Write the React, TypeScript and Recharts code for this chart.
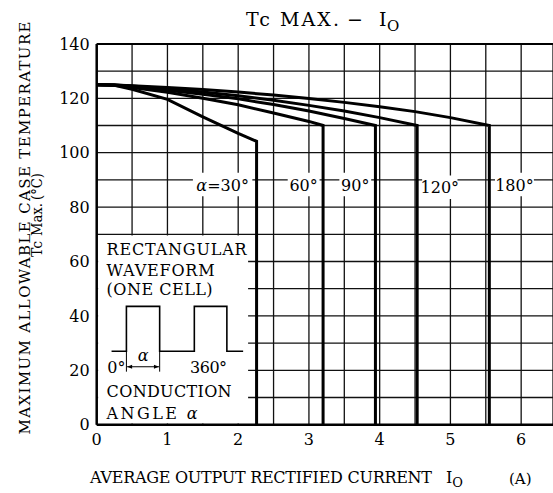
import React from 'react';
import {
  LineChart,
  Line,
  XAxis,
  YAxis,
  CartesianGrid,
  ReferenceArea,
  ReferenceLine,
  ReferenceDot,
} from 'recharts';

const FONT = '"DejaVu Serif", "Liberation Serif", serif';

// grid: every 0.5 A and every 10 °C, labels on whole amps / 20 °C
const xTicks = [0, 0.5, 1, 1.5, 2, 2.5, 3, 3.5, 4, 4.5, 5, 5.5, 6];
const yTicks = [0, 10, 20, 30, 40, 50, 60, 70, 80, 90, 100, 110, 120, 130, 140];

// Tc max vs Io, one curve per conduction angle (ends with the vertical drop)
const io30 = [0, 0.25, 0.5, 1, 1.5, 2, 2.26, 2.26];
const tc30 = [125, 124.8, 123.3, 119.6, 113.2, 107.1, 104.2, 0];

const io60 = [0, 0.25, 0.5, 1, 1.5, 2, 2.5, 3, 3.2, 3.2];
const tc60 = [125, 124.8, 124, 122.2, 120, 117.6, 114.6, 111.5, 110, 0];

const io90 = [0, 0.25, 0.5, 1, 1.5, 2, 2.5, 3, 3.5, 3.94, 3.94];
const tc90 = [125, 124.9, 124.3, 123, 121.5, 119.8, 117.7, 115.3, 112.6, 110, 0];

const io120 = [0, 0.25, 0.5, 1, 1.5, 2, 2.5, 3, 3.5, 4, 4.53, 4.53];
const tc120 = [125, 124.9, 124.5, 123.5, 122.3, 120.9, 119.3, 117.4, 115.3, 112.9, 110, 0];

const io180 = [0, 0.25, 0.5, 1, 1.5, 2, 2.5, 3, 3.5, 4, 4.5, 5, 5.55, 5.55];
const tc180 = [125, 124.9, 124.6, 124, 123.2, 122.3, 121.2, 119.9, 118.5, 116.9, 115.1, 112.9, 110, 0];

const angleNames = ['30°', '60°', '90°', '120°', '180°'];

// inset: rectangular waveform sketch
const waveIo = [0.21, 0.42, 0.42, 0.89, 0.89, 1.38, 1.38, 1.84, 1.84, 2.07];
const waveTc = [27, 27, 43.5, 43.5, 27, 27, 43.5, 43.5, 27, 27];

const rows = (xs: number[], ys: number[]) => xs.map((x, i) => ({ x, y: ys[i] }));

const curves = [
  rows(io30, tc30),
  rows(io60, tc60),
  rows(io90, tc90),
  rows(io120, tc120),
  rows(io180, tc180),
];

// label boxes [x1, x2, y1, y2] in axis units
const labelBoxes = [
  [1.36, 2.2, 84, 92.6],
  [2.7, 3.15, 84, 92.6],
  [3.43, 3.88, 84, 92.6],
  [4.6, 5.1, 83, 91.6],
  [5.63, 6.18, 84, 92.6],
];

const note = (
  key: string,
  x: number,
  y: number,
  body: React.ReactNode,
  len?: number,
  anchor: string = 'start'
) => (
  <ReferenceDot
    key={key}
    x={x}
    y={y}
    r={0}
    fill="none"
    stroke="none"
    label={(p: any) => (
      <text
        x={p.viewBox.x}
        y={p.viewBox.y}
        textAnchor={anchor}
        fontFamily={FONT}
        fontSize={16}
        fill="#000"
        textLength={len}
        lengthAdjust="spacing"
      >
        {body}
      </text>
    )}
  />
);

export default function App() {
  return (
    <div style={{ position: 'relative', width: 553, height: 493, background: '#fff' }}>
      <style>{'body{margin:0;overflow:hidden}'}</style>
      <LineChart
        width={553}
        height={493}
        margin={{ top: 43.9, right: 0, bottom: 38.3, left: 0 }}
      >
        <CartesianGrid stroke="#111" strokeWidth={1.3} />
        <XAxis
          type="number"
          dataKey="x"
          domain={[0, 6.45]}
          ticks={xTicks}
          interval={0}
          allowDataOverflow
          height={30}
          tickSize={0}
          tickMargin={8.5}
          tickLine={false}
          axisLine={{ stroke: '#000', strokeWidth: 2.5 }}
          tickFormatter={(v: number) => (Number.isInteger(v) ? String(v) : '')}
          tick={{ fill: '#000', fontFamily: FONT, fontSize: 16 }}
        />
        <YAxis
          type="number"
          domain={[0, 140]}
          ticks={yTicks}
          interval={0}
          width={96.7}
          tickSize={0}
          tickMargin={7}
          tickLine={false}
          axisLine={{ stroke: '#000', strokeWidth: 2.5 }}
          tickFormatter={(v: number) => (v % 20 === 0 ? String(v) : '')}
          tick={{ fill: '#000', fontFamily: FONT, fontSize: 16 }}
        />
        <ReferenceLine y={140} stroke="#000" strokeWidth={2} />

        {/* inset box hides the grid */}
        <ReferenceArea x1={0.02} x2={2.14} y1={0.4} y2={69.6} fill="#fff" fillOpacity={1} stroke="none" />

        {labelBoxes.map((b, i) => (
          <ReferenceArea
            key={'lb' + i}
            x1={b[0]}
            x2={b[1]}
            y1={b[2]}
            y2={b[3]}
            fill="#fff"
            fillOpacity={1}
            stroke="none"
            label={(p: any) => (
              <text
                x={p.viewBox.x + p.viewBox.width / 2}
                y={p.viewBox.y + p.viewBox.height / 2 + 6}
                textAnchor="middle"
                fontFamily={FONT}
                fontSize={16}
                fill="#000"
              >
                {i === 0 ? (
                  <>
                    <tspan fontStyle="italic">α</tspan>={angleNames[i]}
                  </>
                ) : (
                  angleNames[i]
                )}
              </text>
            )}
          />
        ))}

        {curves.map((d, i) => (
          <Line
            key={'c' + i}
            data={d}
            dataKey="y"
            type="linear"
            stroke="#000"
            strokeWidth={3}
            strokeLinejoin="miter"
            dot={false}
            activeDot={false}
            isAnimationActive={false}
          />
        ))}

        <Line
          data={rows(waveIo, waveTc)}
          dataKey="y"
          type="linear"
          stroke="#000"
          strokeWidth={1.6}
          dot={false}
          activeDot={false}
          isAnimationActive={false}
        />
        <ReferenceLine
          segment={[{ x: 0.42, y: 27 }, { x: 0.42, y: 19.5 }]}
          stroke="#000"
          strokeWidth={1}
        />
        <ReferenceLine
          segment={[{ x: 0.89, y: 27 }, { x: 0.89, y: 19.5 }]}
          stroke="#000"
          strokeWidth={1}
        />
        <ReferenceLine
          segment={[{ x: 0.43, y: 21.3 }, { x: 0.88, y: 21.3 }]}
          stroke="#000"
          strokeWidth={1}
          markerStart="url(#arrowhead)"
          markerEnd="url(#arrowhead)"
        />

        {note('n1', 0.14, 62.4, 'RECTANGULAR', 140)}
        {note('n2', 0.14, 54.6, 'WAVEFORM', 108)}
        {note('n3', 0.14, 47.6, '(ONE CELL)', 106)}
        {note('n4', 0.15, 19, '0°')}
        {note('n5', 0.655, 23.4, <tspan fontStyle="italic">α</tspan>, undefined, 'middle')}
        {note('n6', 1.32, 19, '360°', 37)}
        {note('n7', 0.14, 10.2, 'CONDUCTION', 125)}
        {note(
          'n8',
          0.14,
          2.2,
          <>
            ANGLE <tspan fontStyle="italic">α</tspan>
          </>,
          91
        )}
      </LineChart>

      <svg
        width={553}
        height={493}
        style={{ position: 'absolute', left: 0, top: 0, pointerEvents: 'none' }}
      >
        <defs>
          <marker
            id="arrowhead"
            viewBox="0 0 10 10"
            refX="10"
            refY="5"
            markerWidth="6"
            markerHeight="5"
            orient="auto-start-reverse"
            markerUnits="userSpaceOnUse"
          >
            <path d="M0,1 L10,5 L0,9 z" fill="#000" />
          </marker>
        </defs>
        <text x={246} y={26} fontFamily={FONT} fontSize={19} fill="#000">
          <tspan textLength={93} lengthAdjust="spacing">Tc MAX.</tspan>
          <tspan x={347}>−</tspan>
          <tspan x={379}>I</tspan>
          <tspan x={387} dy={5} fontSize={15}>O</tspan>
        </text>
        <text x={90} y={483} fontFamily={FONT} fontSize={16} fill="#000" textLength={342} lengthAdjust="spacing">
          AVERAGE OUTPUT RECTIFIED CURRENT
        </text>
        <text x={446} y={483} fontFamily={FONT} fontSize={16} fill="#000">
          I<tspan dy={4} fontSize={13}>O</tspan>
        </text>
        <text x={509} y={484} fontFamily={FONT} fontSize={15} fill="#000">
          (A)
        </text>
        <text
          transform="translate(30,434.5) rotate(-90)"
          x={0}
          y={0}
          fontFamily={FONT}
          fontSize={15}
          fill="#000"
          textLength={413}
          lengthAdjust="spacing"
        >
          MAXIMUM ALLOWABLE CASE TEMPERATURE
        </text>
        <g transform="translate(42,257) rotate(-90)" fontFamily={FONT} fontSize={14} fill="#000">
          <text x={0} y={0}>Tc</text>
          <text x={21} y={0} textLength={33} lengthAdjust="spacingAndGlyphs">Max.</text>
          <text x={57} y={0} textLength={27} lengthAdjust="spacingAndGlyphs">(°C)</text>
        </g>
      </svg>
    </div>
  );
}
